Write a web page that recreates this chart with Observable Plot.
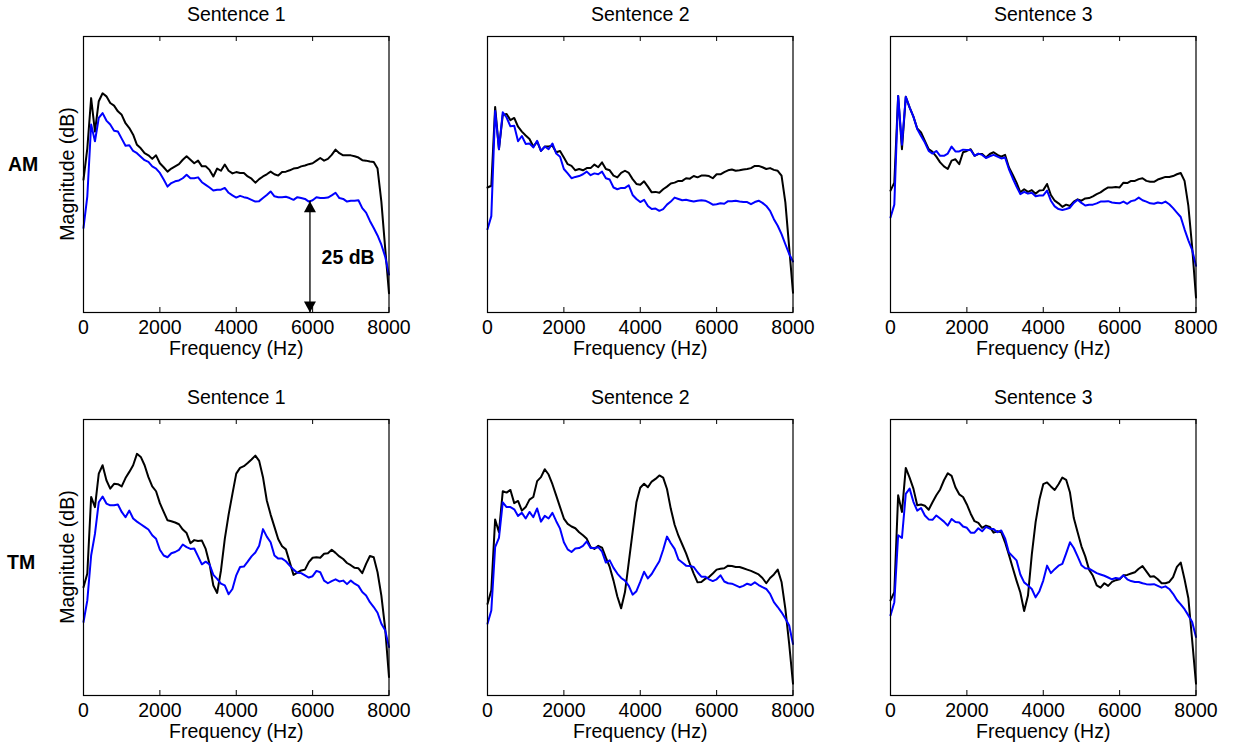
<!DOCTYPE html>
<html><head><meta charset="utf-8">
<script src="https://cdn.jsdelivr.net/npm/d3@7"></script>
<script src="https://cdn.jsdelivr.net/npm/@observablehq/plot@0.6"></script>
<style>
html,body{margin:0;padding:0;background:#fff;}
#chart{position:relative;width:1238px;height:743px;overflow:hidden;font-family:"Liberation Sans",Arial,Helvetica,sans-serif;color:#000;}
.panel{position:absolute;}
.rowlab{position:absolute;font-weight:bold;font-size:19.5px;line-height:1;transform:translateY(-50%);}
.ylab{position:absolute;font-size:19.5px;line-height:1;white-space:nowrap;transform:translate(-50%,-50%) rotate(-90deg);}
</style></head><body><div id="chart"></div>
<script>
// ---------- data ----------
const freqHz = [0,100,200,300,400,500,600,700,800,900,1000,1100,1200,1300,1400,1500,1600,1700,1800,1900,2000,2100,2200,2300,2400,2500,2600,2700,2800,2900,3000,3100,3200,3300,3400,3500,3600,3700,3800,3900,4000,4100,4200,4300,4400,4500,4600,4700,4800,4900,5000,5100,5200,5300,5400,5500,5600,5700,5800,5900,6000,6100,6200,6300,6400,6500,6600,6700,6800,6900,7000,7100,7200,7300,7400,7500,7600,7700,7800,7900,8000];
const xTicks = [0, 2000, 4000, 6000, 8000];
const sentences = ["Sentence 1", "Sentence 2", "Sentence 3"];
const conditions = ["AM", "TM"];

const am1Black = [30.2,37.3,48.7,41.1,48.0,49.8,49.1,47.6,47.0,45.7,44.9,43.0,41.9,40.4,38.1,37.3,36.2,35.7,34.9,35.7,33.9,33.0,32.0,32.7,33.2,33.7,34.7,35.5,34.7,33.9,34.5,33.2,33.2,32.4,30.9,32.7,32.2,33.6,32.2,31.6,31.9,31.7,31.7,30.9,30.4,29.5,30.3,30.9,31.4,32.0,31.4,31.1,31.9,32.0,32.3,32.7,32.8,33.2,33.4,33.7,33.9,34.5,35.1,34.5,34.9,35.8,37.0,36.2,35.7,35.7,35.7,35.5,35.2,34.6,34.5,34.3,34.2,32.7,25.2,14.6,4.4];
const am1Blue = [19.2,26.4,42.7,38.9,44.2,45.3,43.6,42.7,41.3,41.1,39.5,37.9,38.0,36.7,36.2,35.4,34.6,34.2,33.2,32.7,31.7,30.2,28.6,29.4,29.8,30.0,30.5,31.3,30.5,30.5,30.7,29.6,29.0,28.4,27.7,27.9,27.9,28.3,27.2,26.6,26.1,26.5,26.2,26.0,25.6,25.2,25.3,26.0,26.7,27.5,26.4,26.2,26.2,26.3,26.0,25.6,26.2,26.0,25.8,25.2,25.5,26.2,26.0,26.0,26.1,26.6,27.2,26.0,25.8,25.2,25.4,25.4,25.5,23.7,22.7,20.8,19.2,17.5,15.4,12.7,8.6];
const am2Black = [28.4,28.8,46.7,37.1,44.9,45.1,43.7,44.2,42.2,41.1,40.2,39.4,37.7,38.8,36.7,37.7,37.7,37.9,36.4,36.7,35.2,33.7,33.3,32.3,32.6,32.3,32.8,32.8,33.6,33.0,34.1,32.6,32.3,31.1,30.7,31.7,32.2,31.7,30.3,29.2,29.0,29.8,28.6,27.3,27.4,27.2,28.0,28.6,29.3,29.5,29.9,29.9,30.5,30.4,31.0,30.7,31.1,31.1,31.0,30.5,31.4,31.4,31.9,32.3,32.5,32.2,32.3,32.5,32.6,32.8,33.3,33.3,33.0,32.6,32.8,32.4,32.2,31.1,25.0,14.8,4.5];
const am2Blue = [18.9,21.9,45.8,37.1,45.5,44.3,42.3,42.4,38.9,40.1,38.3,38.4,37.5,39.0,36.7,37.7,37.1,38.4,36.1,35.4,32.6,31.6,30.5,30.8,31.0,31.4,32.0,31.2,31.6,31.4,32.0,30.5,30.2,28.4,28.0,28.3,28.3,28.9,26.7,25.8,25.1,25.6,24.2,23.5,23.6,23.1,23.5,24.5,25.2,26.1,25.8,25.5,25.6,25.4,25.2,25.4,25.5,25.4,25.0,24.5,24.6,24.8,24.7,25.3,25.3,25.4,25.2,25.1,25.1,24.6,25.1,25.4,24.9,24.2,23.1,21.2,19.7,17.8,15.5,13.3,11.6];
const am3Black = [27.7,29.5,49.2,37.1,49.0,46.6,44.5,41.8,40.9,39.0,37.1,36.5,35.4,34.1,33.2,32.6,34.5,34.8,33.7,36.4,36.7,37.1,35.6,36.0,36.0,35.2,36.0,36.4,35.8,35.4,35.8,33.0,31.3,29.5,27.3,28.0,27.4,27.8,27.0,27.7,27.8,29.2,26.7,25.4,24.8,24.0,24.5,24.2,25.2,25.7,25.4,25.9,26.0,26.4,26.9,27.3,27.9,28.4,28.4,28.5,28.4,29.5,29.4,29.9,29.9,30.3,30.5,29.9,29.7,29.7,30.2,30.5,30.8,30.8,31.0,31.4,31.7,29.9,24.2,14.8,3.4];
const am3Blue = [21.6,24.5,49.2,38.1,49.0,46.6,44.5,41.7,40.1,38.6,36.7,36.1,36.7,35.6,35.6,36.1,37.7,36.6,36.6,37.0,36.9,36.9,35.6,36.1,35.8,35.1,35.5,35.8,35.4,35.0,35.2,32.6,30.5,28.6,26.9,27.4,27.0,27.2,26.4,26.6,26.6,27.7,25.4,24.1,23.5,23.3,23.5,23.8,24.9,25.6,24.9,24.3,24.5,24.5,24.8,25.2,25.2,25.3,25.0,24.9,24.8,25.2,24.7,25.3,25.5,26.1,25.5,25.2,24.8,24.7,25.0,24.8,25.2,24.6,23.7,22.7,21.7,18.9,16.4,14.2,10.6];
const tm1Black = [24.6,27.7,45.1,42.8,50.4,52.3,48.9,47.0,48.1,48.0,47.5,49.4,50.8,52.3,54.9,54.2,52.3,49.6,47.5,46.4,43.7,41.7,39.8,39.6,39.3,38.9,37.7,36.9,34.6,35.3,35.1,35.2,33.3,29.9,25.0,23.3,28.4,35.6,41.1,45.8,50.4,51.7,52.1,52.8,53.6,54.5,53.3,49.6,44.3,41.1,38.3,35.5,33.9,33.2,30.3,27.4,27.9,28.4,28.6,30.3,31.3,31.4,31.3,32.2,32.3,33.1,32.4,31.6,31.0,30.1,29.6,29.0,28.9,27.8,29.9,31.7,31.4,28.0,22.7,15.2,4.2];
const tm1Blue = [16.7,21.6,31.8,36.7,43.9,45.2,43.6,43.2,43.2,43.4,41.7,40.5,42.0,40.2,39.5,38.9,38.3,37.7,36.4,35.6,33.1,31.8,31.4,32.3,32.6,33.1,34.3,33.7,33.3,33.4,31.6,29.8,30.4,29.8,27.4,26.5,25.4,25.0,23.0,24.2,27.3,29.2,29.3,30.4,31.6,32.5,34.0,37.8,36.1,34.8,31.8,31.1,31.1,30.5,29.5,28.6,27.9,27.8,27.3,26.8,27.1,28.3,28.0,26.1,25.5,26.0,26.4,25.9,26.1,25.3,26.1,25.4,24.9,23.5,22.7,21.2,20.1,18.8,16.3,14.8,11.0];
const tm2Black = [20.8,23.9,40.0,37.1,46.4,46.1,46.7,43.7,44.2,42.0,42.8,44.5,45.1,48.7,49.6,51.4,50.2,48.0,45.4,42.8,40.2,39.0,38.4,38.0,37.1,36.4,35.6,33.7,33.3,34.0,33.6,31.3,29.2,26.1,22.5,19.8,23.5,30.3,37.1,43.9,47.2,48.1,47.3,48.6,49.2,50.0,49.5,46.9,42.4,38.8,36.3,34.3,32.3,29.9,27.7,25.7,25.8,26.5,26.9,27.7,28.6,28.8,28.9,29.5,29.4,29.2,29.2,28.9,28.6,28.3,27.9,27.5,26.7,25.5,26.7,27.5,28.6,25.8,19.7,11.7,2.7];
const tm2Blue = [16.3,19.3,33.7,35.8,43.9,42.8,42.8,42.3,40.8,41.5,40.2,41.7,40.5,42.5,39.5,40.8,40.2,41.5,39.6,37.9,34.8,33.2,32.6,33.4,33.5,34.0,35.0,33.5,33.5,33.7,32.7,30.2,30.7,29.0,27.7,26.7,26.1,24.9,22.9,23.7,25.8,28.1,26.6,27.6,29.1,30.5,33.1,36.1,34.6,33.3,30.9,30.2,29.5,29.4,29.2,28.0,27.0,27.0,26.4,26.0,26.4,27.3,25.9,25.5,25.4,25.0,24.6,24.9,25.4,25.1,25.7,25.1,24.6,24.2,23.1,21.2,20.1,18.9,17.5,15.9,11.7];
const tm3Black = [21.6,23.5,45.5,41.7,51.7,49.5,47.0,43.2,43.4,43.1,42.2,43.9,45.5,46.8,48.9,50.5,49.9,47.3,45.7,45.1,43.4,41.3,39.6,39.2,38.1,38.6,38.3,37.0,37.3,37.1,34.8,32.0,29.0,26.1,23.4,19.2,22.7,32.0,39.4,44.5,48.0,48.4,47.5,46.7,48.0,49.5,49.0,46.1,40.3,37.1,33.9,31.6,28.6,27.2,25.0,24.5,25.5,24.9,25.8,26.2,26.4,27.3,27.4,27.7,28.0,28.8,29.4,28.2,27.0,27.1,26.4,25.5,25.5,25.8,26.9,29.2,30.2,26.4,22.1,12.5,2.7];
const tm3Blue = [18.2,21.2,36.4,35.8,45.8,47.0,44.0,42.0,42.6,40.9,40.0,39.9,40.9,40.2,39.5,38.6,40.1,39.4,39.3,38.4,38.1,37.0,37.0,38.0,37.3,38.3,37.9,37.8,37.1,37.5,35.7,32.5,31.6,30.7,27.5,25.7,25.0,24.2,22.3,23.7,26.1,29.5,27.8,28.7,29.5,29.9,32.3,34.8,33.5,31.6,29.6,28.9,28.8,28.3,27.8,27.5,27.2,26.8,26.4,26.7,26.5,27.3,26.4,26.0,25.8,25.8,25.5,25.3,25.2,25.3,24.9,24.5,24.8,24.2,23.1,21.7,20.7,19.6,18.2,16.7,13.3];

// 25 dB annotation (AM, Sentence 1)
const arrowFreq = [5930];
const arrowLow = 0;
const arrowHigh = 25.3;
const arrowLabel = ["25 dB"];
const arrowLabelFreq = 6235;
const arrowLabelDb = 12.4;

const series = [
  [[am1Black, am1Blue], [am2Black, am2Blue], [am3Black, am3Blue]],
  [[tm1Black, tm1Blue], [tm2Black, tm2Blue], [tm3Black, tm3Blue]]
];

// ---------- layout ----------
const FONT = '"Liberation Sans", Arial, Helvetica, sans-serif';
const FS = 19.5;
const colLeft = [83.3, 486.7, 890.2];
const rowTop = [35.5, 419];
const frameW = 305.5, frameH = 276;
const mL = 40, mR = 30, mT = 36, mB = 54;
const yMax = 62.7;

const headUp = {draw(ctx) { ctx.moveTo(0, 0); ctx.lineTo(6, 11); ctx.lineTo(-6, 11); ctx.closePath(); }};
const headDown = {draw(ctx) { ctx.moveTo(0, 0); ctx.lineTo(6, -11); ctx.lineTo(-6, -11); ctx.closePath(); }};

function panel(black, blue, title, extra) {
  const rows = freqHz.map((f, i) => ({f, black: black[i], blue: blue[i]}));
  return Plot.plot({
    width: frameW + mL + mR,
    height: frameH + mT + mB,
    marginLeft: mL, marginRight: mR, marginTop: mT, marginBottom: mB,
    style: {fontFamily: FONT, fontSize: FS + "px", background: "transparent", overflow: "visible", color: "black"},
    x: {domain: [0, 8000]},
    y: {domain: [0, yMax], axis: null},
    marks: [
      Plot.line(rows, {x: "f", y: "black", stroke: "black", strokeWidth: 2}),
      Plot.line(rows, {x: "f", y: "blue", stroke: "#0000ff", strokeWidth: 2}),
      Plot.frame({stroke: "black", strokeWidth: 1.2}),
      Plot.tickX(xTicks, {x: d => d, insetTop: frameH - 5, stroke: "black"}),
      Plot.tickX(xTicks, {x: d => d, insetBottom: frameH - 5, stroke: "black"}),
      Plot.axisX(xTicks, {tickSize: 0, tickPadding: 7.5, tickFormat: d => String(d), label: null, fontSize: FS}),
      Plot.text([title], {frameAnchor: "top", dy: -21.5, lineAnchor: "middle", fontSize: FS}),
      Plot.text(["Frequency (Hz)"], {frameAnchor: "bottom", dy: 36.5, lineAnchor: "middle", fontSize: FS}),
      ...extra
    ]
  });
}

const chart = document.getElementById("chart");
conditions.forEach((cond, r) => {
  sentences.forEach((s, c) => {
    const [bk, bl] = series[r][c];
    const extra = (r === 0 && c === 0) ? [
      Plot.ruleX(arrowFreq, {x: d => d, y1: arrowLow, y2: arrowHigh, stroke: "black", strokeWidth: 1.3}),
      Plot.dot(arrowFreq, {x: d => d, y: arrowHigh, symbol: headUp, r: 5, fill: "black", stroke: "none"}),
      Plot.dot(arrowFreq, {x: d => d, y: arrowLow, symbol: headDown, r: 5, fill: "black", stroke: "none"}),
      Plot.text(arrowLabel, {x: arrowLabelFreq, y: arrowLabelDb, textAnchor: "start", lineAnchor: "middle", fontWeight: "bold", fontSize: FS})
    ] : [];
    const div = document.createElement("div");
    div.className = "panel";
    div.style.left = (colLeft[c] - mL) + "px";
    div.style.top = (rowTop[r] - mT) + "px";
    div.appendChild(panel(bk, bl, s, extra));
    chart.appendChild(div);
  });
  const lab = document.createElement("div");
  lab.className = "rowlab";
  lab.textContent = cond;
  lab.style.left = (r === 0 ? 8 : 7) + "px";
  lab.style.top = (r === 0 ? 165 : 563) + "px";
  chart.appendChild(lab);
  const yl = document.createElement("div");
  yl.className = "ylab";
  yl.textContent = "Magnitude (dB)";
  yl.style.left = "68px";
  yl.style.top = (rowTop[r] + frameH / 2) + "px";
  chart.appendChild(yl);
});
</script></body></html>
